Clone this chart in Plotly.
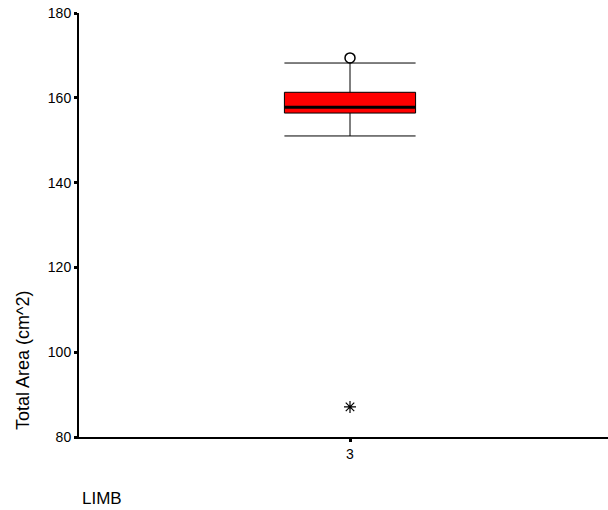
import plotly.graph_objects as go

# Data
categories = [3]
q1 = [156.4]
median = [157.8]
q3 = [161.3]
lower_fence = [151.0]
upper_fence = [168.2]
outlier_circle = [169.4]
extreme_star = [87.1]
y_ticks = [80, 100, 120, 140, 160, 180]
box_width = 0.242

fig = go.Figure()

fig.add_trace(go.Box(
    x=categories, q1=q1, median=median, q3=q3,
    lowerfence=lower_fence, upperfence=upper_fence,
    width=box_width, whiskerwidth=1.0,
    fillcolor="#ff0000", line=dict(color="black", width=1),
    boxpoints=False, showlegend=False, hoverinfo="skip",
))

# thick median line
fig.add_trace(go.Scatter(
    x=[categories[0] - box_width / 2, categories[0] + box_width / 2],
    y=[median[0], median[0]],
    mode="lines", line=dict(color="black", width=3),
    showlegend=False, hoverinfo="skip",
))

fig.add_trace(go.Scatter(
    x=categories, y=outlier_circle, mode="markers",
    marker=dict(symbol="circle-open", size=10, color="black", line=dict(width=1.5)),
    showlegend=False,
))
fig.add_trace(go.Scatter(
    x=categories, y=extreme_star, mode="markers",
    marker=dict(symbol="asterisk-open", size=10, color="black", line=dict(width=1.2)),
    showlegend=False,
))

L, R, T, B = 79, 0, 13, 73
W, H = 608, 510
pw, ph = W - L - R, H - T - B


def to_paper(px, py):
    return (px - L) / pw, (H - B - py) / ph


ax, ay = to_paper(23, 360)
lx, ly = to_paper(80, 499)

fig.update_layout(
    width=W, height=H,
    margin=dict(l=L, r=R, t=T, b=B),
    paper_bgcolor="white", plot_bgcolor="white",
    font=dict(family="Liberation Sans, Arial, sans-serif", color="black", size=14),
    xaxis=dict(
        range=[2.5, 3.476], tickvals=categories, ticktext=[str(c) for c in categories],
        showgrid=False, zeroline=False, showline=True, linecolor="black", linewidth=2,
        ticks="outside", ticklen=3, tickwidth=3, tickcolor="black",
        tickfont=dict(size=14),
    ),
    yaxis=dict(
        range=[80, 180], tickvals=y_ticks,
        showgrid=False, zeroline=False, showline=True, linecolor="black", linewidth=2,
        ticks="outside", ticklen=3, tickwidth=3, tickcolor="black",
        tickfont=dict(size=14),
    ),
    annotations=[
        dict(text="Total Area (cm^2)", x=ax, y=ay, xref="paper", yref="paper",
             xanchor="center", yanchor="middle",
             showarrow=False, textangle=-90, font=dict(size=18)),
        dict(text="LIMB", x=lx, y=ly, xref="paper", yref="paper",
             xanchor="left", yanchor="middle", showarrow=False,
             font=dict(size=17)),
    ],
)

fig.write_html("out.html")
